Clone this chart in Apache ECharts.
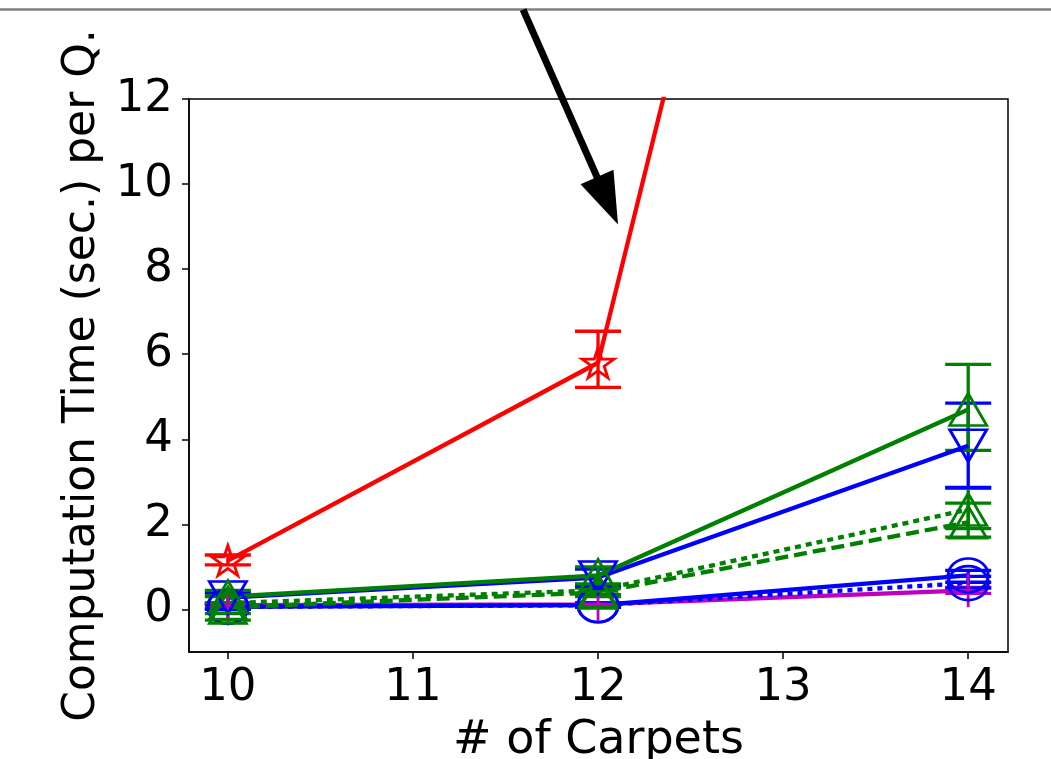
<!DOCTYPE html>
<html>
<head>
<meta charset="utf-8">
<script src="https://cdn.jsdelivr.net/npm/echarts@6/dist/echarts.min.js"></script>
<style>
html,body{margin:0;padding:0;background:#fff;}
#chart{width:1051px;height:759px;}
</style>
</head>
<body>
<div id="chart"></div>
<script>
// ---- data ----
const carpets = [10, 12, 14];
const xTicks = [10, 11, 12, 13, 14];
const yTicks = [0, 2, 4, 6, 8, 10, 12];

const redStar      = [1.15, 5.8, 41.0];
const redStarLo    = [1.05, 5.22, 38.0];
const redStarHi    = [1.28, 6.54, 44.0];

const greenUp      = [0.3, 0.8, 4.7];
const greenUpLo    = [0.15, 0.6, 3.74];
const greenUpHi    = [0.45, 1.0, 5.76];

const blueDown     = [0.28, 0.75, 3.85];
const blueDownLo   = [0.15, 0.55, 2.87];
const blueDownHi   = [0.4, 0.95, 4.85];

const greenDotted   = [0.15, 0.45, 2.35];
const greenDottedLo = [-0.1, 0.35, 1.9];
const greenDottedHi = [0.35, 0.55, 2.85];

const greenDashed   = [0.05, 0.4, 2.05];
const greenDashedLo = [-0.25, 0.3, 1.7];
const greenDashedHi = [0.3, 0.5, 2.5];

const blueCircle    = [0.06, 0.1, 0.8];
const blueCircleLo  = [0.0, 0.05, 0.64];
const blueCircleHi  = [0.12, 0.15, 0.92];

const blueDotCircle   = [0.06, 0.1, 0.62];
const blueDotCircleLo = [0.0, 0.05, 0.5];
const blueDotCircleHi = [0.12, 0.15, 0.78];

const magenta   = [0.1, 0.12, 0.45];
const magentaLo = [0.05, 0.08, 0.38];
const magentaHi = [0.15, 0.16, 0.52];

// arrow annotation (data coordinates)
const arrowFrom = [11.595, 14.1];
const arrowTo = [12.108, 9.05];

// ---- styling ----
const RED = '#ff0000', GREEN = '#008000', BLUE = '#0000ff', MAG = '#bf00bf';
const FONT = 'DejaVu Sans';
const STAR = 'path://M50,0 L61.2,34.5 L97.6,34.5 L68.2,55.9 L79.4,90.5 L50,69.1 L20.6,90.5 L31.8,55.9 L2.4,34.5 L38.8,34.5 Z';
const PLUS = 'path://M10,0 L10,20 M0,10 L20,10';

function lineSeries(name, vals, color, type, symbol, size, rotate) {
  return {
    name: name, type: 'line',
    data: carpets.map((c, i) => [c, vals[i]]),
    symbol: symbol, symbolSize: size, symbolRotate: rotate || 0,
    showSymbol: true, clip: true, z: 3,
    lineStyle: {color: color, width: 4.3, type: type},
    itemStyle: {color: 'rgba(0,0,0,0)', borderColor: color, borderWidth: 2.8},
    emphasis: {disabled: true},
    animation: false
  };
}

function errSeries(lo, hi, color) {
  return {
    type: 'custom', clip: true, z: 2, animation: false,
    data: carpets.map((c, i) => [c, lo[i], hi[i]]),
    renderItem: function (params, api) {
      const x = api.value(0);
      const a = api.coord([x, api.value(1)]);
      const b = api.coord([x, api.value(2)]);
      const hw = 23;
      const st = {stroke: color, lineWidth: 3.3};
      return {type: 'group', children: [
        {type: 'line', shape: {x1: a[0], y1: a[1], x2: b[0], y2: b[1]}, style: st},
        {type: 'line', shape: {x1: a[0] - hw, y1: a[1], x2: a[0] + hw, y2: a[1]}, style: st},
        {type: 'line', shape: {x1: b[0] - hw, y1: b[1], x2: b[0] + hw, y2: b[1]}, style: st}
      ]};
    }
  };
}

const chart = echarts.init(document.getElementById('chart'), null, {renderer: 'canvas'});

const option = {
  backgroundColor: '#fff',
  animation: false,
  grid: {left: 189, right: 43, top: 99, bottom: 107, outerBoundsMode: 'none', containLabel: false,
         show: true, borderColor: '#000', borderWidth: 1.5, backgroundColor: 'transparent'},
  xAxis: {
    type: 'value', min: 9.79, max: 14.215,
    name: '# of Carpets', nameLocation: 'middle', nameGap: 66,
    nameTextStyle: {fontFamily: FONT, fontSize: 46, color: '#000'},
    axisLine: {show: true, onZero: false, lineStyle: {color: '#000', width: 1.5}},
    axisTick: {show: true, length: 7, customValues: xTicks, lineStyle: {color: '#000', width: 1.5}},
    axisLabel: {customValues: xTicks, margin: 14, fontFamily: FONT, fontSize: 45, color: '#000'},
    splitLine: {show: false}
  },
  yAxis: {
    type: 'value', min: -1, max: 12,
    name: 'Computation Time (sec.) per Q.', nameLocation: 'middle', nameGap: 74, nameRotate: 90,
    nameTextStyle: {fontFamily: FONT, fontSize: 44, color: '#000'},
    axisLine: {show: true, onZero: false, lineStyle: {color: '#000', width: 1.5}},
    axisTick: {show: true, length: 7, customValues: yTicks, lineStyle: {color: '#000', width: 1.5}},
    axisLabel: {customValues: yTicks, margin: 16, fontFamily: FONT, fontSize: 45, color: '#000'},
    splitLine: {show: false}
  },
  series: [
    errSeries(magentaLo, magentaHi, MAG),
    lineSeries('magenta', magenta, MAG, 'solid', PLUS, [34, 34]),
    errSeries(blueDotCircleLo, blueDotCircleHi, BLUE),
    lineSeries('blueDotCircle', blueDotCircle, BLUE, [5, 5], 'circle', [40, 34]),
    errSeries(blueCircleLo, blueCircleHi, BLUE),
    lineSeries('blueCircle', blueCircle, BLUE, 'solid', 'circle', [40, 34]),
    errSeries(greenDashedLo, greenDashedHi, GREEN),
    lineSeries('greenDashed', greenDashed, GREEN, [13, 6], 'triangle', [37, 32]),
    errSeries(greenDottedLo, greenDottedHi, GREEN),
    lineSeries('greenDotted', greenDotted, GREEN, [6, 5], 'triangle', [37, 32]),
    errSeries(blueDownLo, blueDownHi, BLUE),
    lineSeries('blueDown', blueDown, BLUE, 'solid', 'triangle', [37, 32], 180),
    errSeries(greenUpLo, greenUpHi, GREEN),
    lineSeries('greenUp', greenUp, GREEN, 'solid', 'triangle', [37, 32]),
    errSeries(redStarLo, redStarHi, RED),
    lineSeries('redStar', redStar, RED, 'solid', STAR, [32, 30])
  ]
};
chart.setOption(option);

// annotation: top frame line and arrow
const p0 = chart.convertToPixel({gridIndex: 0}, arrowFrom);
const p1 = chart.convertToPixel({gridIndex: 0}, arrowTo);
const dx = p1[0] - p0[0], dy = p1[1] - p0[1];
const len = Math.sqrt(dx * dx + dy * dy);
const ux = dx / len, uy = dy / len;
const headLen = 52, headHalf = 18;
const bx = p1[0] - ux * headLen, by = p1[1] - uy * headLen;
chart.setOption({
  graphic: [
    {type: 'line', shape: {x1: 0, y1: 9.5, x2: 1051, y2: 9.5}, style: {stroke: '#808080', lineWidth: 2.5}, z: 50},
    {type: 'line', shape: {x1: p0[0], y1: p0[1], x2: bx + ux * 4, y2: by + uy * 4}, style: {stroke: '#000', lineWidth: 7}, z: 60},
    {type: 'polygon', shape: {points: [[p1[0], p1[1]], [bx - uy * headHalf, by + ux * headHalf], [bx + uy * headHalf, by - ux * headHalf]]}, style: {fill: '#000'}, z: 60}
  ]
});
</script>
</body>
</html>
